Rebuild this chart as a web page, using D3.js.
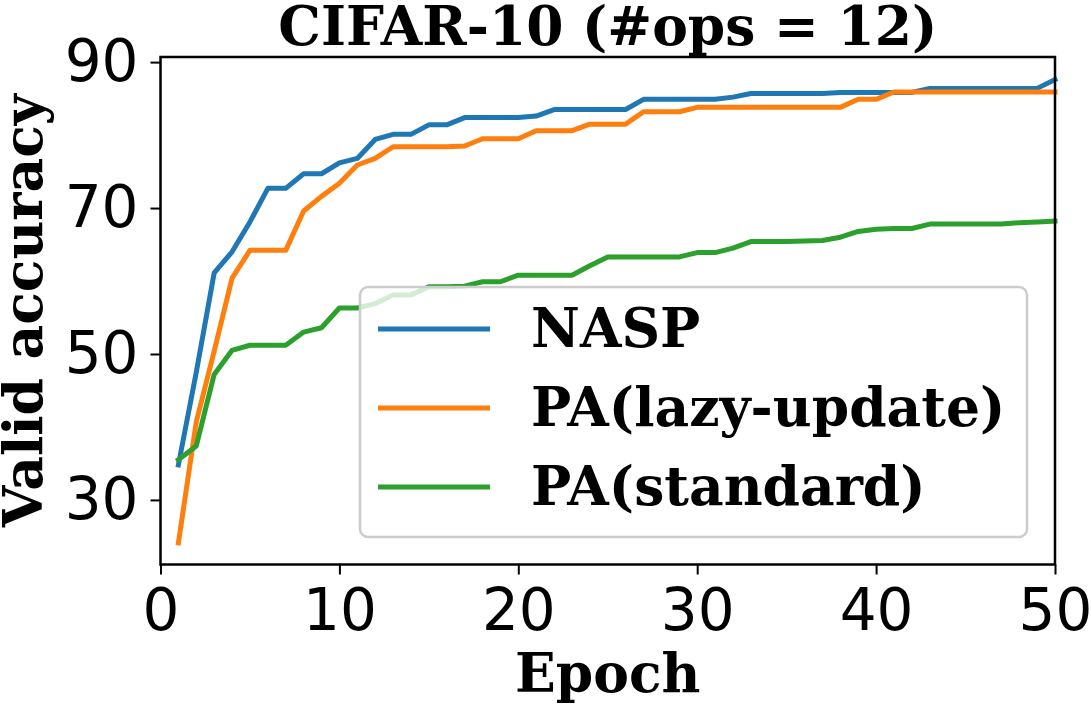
<!DOCTYPE html>
<html>
<head>
<meta charset="utf-8">
<script src="https://cdn.jsdelivr.net/npm/d3@7"></script>
<style>
  body { margin: 0; background: #fff; }
  svg { display: block; }
</style>
</head>
<body>
<div id="container"></div>
<script>
// epochs 1..50
const epochs = d3.range(1, 51)

const nasp = [34.8, 47.5, 61.1, 64.0, 68.1, 72.7, 72.7, 74.7, 74.7, 76.2,
  76.8, 79.4, 80.1, 80.1, 81.4, 81.4, 82.4, 82.4, 82.4, 82.4,
  82.6, 83.5, 83.5, 83.5, 83.5, 83.5, 84.9, 84.9, 84.9, 84.9,
  84.9, 85.2, 85.7, 85.7, 85.7, 85.7, 85.7, 85.85, 85.85, 85.85,
  85.85, 85.85, 86.4, 86.4, 86.4, 86.4, 86.4, 86.4, 86.4, 87.6]

const paLazy = [24.1, 40.7, 50.4, 60.4, 64.2, 64.2, 64.2, 69.6, 71.6, 73.4,
  75.9, 76.8, 78.4, 78.4, 78.4, 78.4, 78.5, 79.5, 79.5, 79.5,
  80.6, 80.6, 80.6, 81.5, 81.5, 81.5, 83.2, 83.2, 83.2, 83.8,
  83.8, 83.8, 83.8, 83.8, 83.8, 83.8, 83.8, 83.8, 84.9, 84.9,
  85.9, 85.9, 85.9, 85.9, 85.9, 85.9, 85.9, 85.9, 85.9, 85.9]

const paStandard = [35.5, 37.4, 47.2, 50.5, 51.2, 51.2, 51.2, 53.0, 53.6, 56.3,
  56.3, 56.9, 58.1, 58.1, 59.2, 59.2, 59.3, 59.9, 59.9, 60.8,
  60.8, 60.8, 60.8, 62.1, 63.3, 63.3, 63.3, 63.3, 63.3, 63.9,
  63.9, 64.5, 65.4, 65.4, 65.4, 65.5, 65.55, 66.0, 66.8, 67.1,
  67.2, 67.2, 67.8, 67.8, 67.8, 67.8, 67.8, 68.0, 68.1, 68.2]

const seriesNames = ["NASP", "PA(lazy-update)", "PA(standard)"]
const seriesColors = ["#1f77b4", "#ff7f0e", "#2ca02c"]
const xTicks = [0, 10, 20, 30, 40, 50]
const yTicks = [30, 50, 70, 90]

const title = "CIFAR-10 (#ops = 12)"
const xLabel = "Epoch"
const yLabel = "Valid accuracy"

let width = 1091
let height = 706
let margin = {top: 57, right: 36, bottom: 141.5, left: 160.5}

const serif = "'DejaVu Serif', serif"
const sans = "'DejaVu Sans', sans-serif"
const labelSize = 53.5

let svg = d3.select("#container")
    .append("svg")
    .attr("width", width)
    .attr("height", height)

let x = d3.scaleLinear()
    .domain([0, 50])
    .range([margin.left, width - margin.right])

let y = d3.scaleLinear()
    .domain([21.15, 90.7])
    .range([height - margin.bottom, margin.top])

// lines
let line = d3.line()
    .x((d, i) => x(epochs[i]))
    .y(d => y(d))

const allSeries = [nasp, paLazy, paStandard]

svg.append("g")
    .selectAll("path")
    .data(allSeries)
    .join("path")
        .attr("d", d => line(d))
        .attr("fill", "none")
        .attr("stroke", (d, i) => seriesColors[i])
        .attr("stroke-width", 5)
        .attr("stroke-linejoin", "round")
        .attr("stroke-linecap", "square")

// axes
let xAxis = svg.append("g")
    .attr("transform", `translate(0,${height - margin.bottom})`)
    .call(d3.axisBottom(x).tickValues(xTicks).tickSize(10).tickPadding(14).tickSizeOuter(0))

let yAxis = svg.append("g")
    .attr("transform", `translate(${margin.left},0)`)
    .call(d3.axisLeft(y).tickValues(yTicks).tickSize(10).tickPadding(12).tickSizeOuter(0))

for (let ax of [xAxis, yAxis]) {
    ax.select(".domain").remove()
    ax.selectAll(".tick line").attr("stroke", "#000").attr("stroke-width", 2)
    ax.selectAll(".tick text")
        .attr("font-family", sans)
        .attr("font-size", 58)
        .attr("fill", "#000")
}

// frame
svg.append("rect")
    .attr("x", margin.left)
    .attr("y", margin.top)
    .attr("width", width - margin.right - margin.left)
    .attr("height", height - margin.bottom - margin.top)
    .attr("fill", "none")
    .attr("stroke", "#000")
    .attr("stroke-width", 2.5)

// titles
svg.append("text")
    .attr("x", (margin.left + width - margin.right) / 2)
    .attr("y", 45)
    .attr("text-anchor", "middle")
    .attr("font-family", serif)
    .attr("font-weight", "bold")
    .attr("font-size", labelSize)
    .text(title)

svg.append("text")
    .attr("x", (margin.left + width - margin.right) / 2)
    .attr("y", 692)
    .attr("text-anchor", "middle")
    .attr("font-family", serif)
    .attr("font-weight", "bold")
    .attr("font-size", labelSize)
    .text(xLabel)

svg.append("text")
    .attr("transform", `translate(42,${(margin.top + height - margin.bottom) / 2}) rotate(-90)`)
    .attr("text-anchor", "middle")
    .attr("font-family", serif)
    .attr("font-weight", "bold")
    .attr("font-size", labelSize)
    .text(yLabel)

// legend
let legend = svg.append("g")
legend.append("rect")
    .attr("x", 360)
    .attr("y", 287)
    .attr("width", 667)
    .attr("height", 250)
    .attr("rx", 8)
    .attr("fill", "#fff")
    .attr("fill-opacity", 0.8)
    .attr("stroke", "#cccccc")
    .attr("stroke-width", 2.5)

let items = legend.selectAll("g.item")
    .data(seriesNames)
    .join("g")
    .attr("class", "item")
    .attr("transform", (d, i) => `translate(0,${329 + i * 79})`)

items.append("line")
    .attr("x1", 378)
    .attr("x2", 490)
    .attr("stroke", (d, i) => seriesColors[i])
    .attr("stroke-width", 5)

items.append("text")
    .attr("x", 531)
    .attr("y", 18)
    .attr("font-family", serif)
    .attr("font-weight", "bold")
    .attr("font-size", labelSize)
    .text(d => d)
</script>
</body>
</html>
